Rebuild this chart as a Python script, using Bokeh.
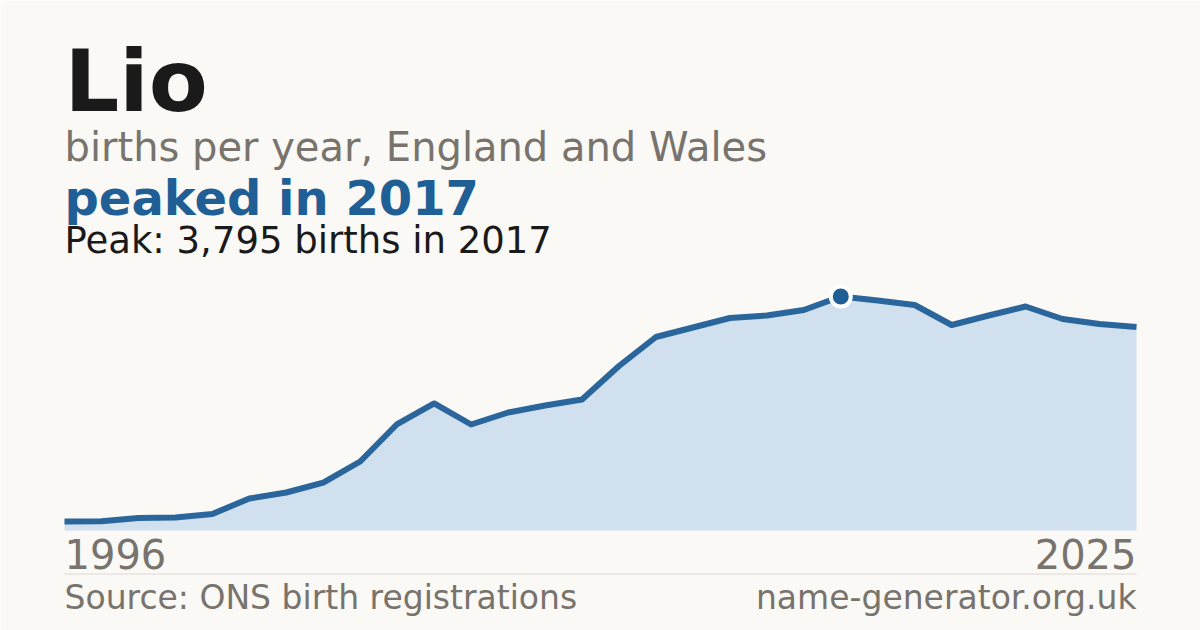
from bokeh.plotting import figure
from bokeh.models import Range1d
from bokeh.core.properties import value
from bokeh.embed import file_html
from bokeh.resources import INLINE

# ---- data ----
years = list(range(1996, 2026))
births = [146, 150, 203, 211, 268, 519, 616, 778, 1119, 1727,
          2060, 1719, 1914, 2027, 2125, 2668, 3138, 3292, 3446, 3487,
          3576, 3795, 3730, 3657, 3333, 3487, 3633, 3430, 3349, 3300]
peak_year = 2017
peak_value = 3795
tick_labels = ["1996", "2025"]
title_text = "Lio"
subtitle_text = "births per year, England and Wales"
headline_text = "peaked in 2017"
peak_text = "Peak: 3,795 births in 2017"
source_text = "Source: ONS birth registrations"
site_text = "name-generator.org.uk"

# ---- layout (page pixels) ----
W, H = 1200, 630
OFF = 0
LEFT_PX, RIGHT_PX = 64, 1136
BASE_PX, PEAK_PX = 530, 296
px_per_year = (RIGHT_PX - LEFT_PX) / (years[-1] - years[0])
px_per_birth = (BASE_PX - PEAK_PX) / peak_value
BASELINE_SHIFT = 0.35  # em, compensation for rendered baseline offset

def dx(px):
    return years[0] + (px - LEFT_PX) / px_per_year

def dy(py):
    return (BASE_PX - py) / px_per_birth

BG = "#faf9f5"
BLUE = "#1f5f96"
LINE = "#2a669c"
AREA = "#d0e0ef"
DARK = "#1a1a1a"
GRAY = "#78736c"
RULE = "#dddad3"
FONT = value("DejaVu Sans")

p = figure(width=W, height=H, output_backend="svg", toolbar_location=None,
           x_axis_location=None, y_axis_location=None,
           x_range=Range1d(dx(OFF), dx(OFF + W)),
           y_range=Range1d(dy(OFF + H), dy(OFF)),
           min_border=0, min_border_left=0, min_border_right=0,
           min_border_top=0, min_border_bottom=0)
p.background_fill_color = BG
p.border_fill_color = BG
p.outline_line_color = None
p.xgrid.visible = False
p.ygrid.visible = False

# area + line
p.varea(x=years, y1=[0] * len(years), y2=births, fill_color=AREA)
p.line(years, births, line_color=LINE, line_width=6, line_join="round", line_cap="butt")
p.scatter([peak_year], [peak_value], size=20, fill_color=BLUE, line_color="white", line_width=4)

# separator rule
p.segment(x0=[years[0]], y0=[dy(573.5)], x1=[years[-1]], y1=[dy(573.5)],
          line_color=RULE, line_width=1)

def txt(x, base_py, s, size, color, style="normal", align="left"):
    y = dy(base_py - BASELINE_SHIFT * size)
    p.text(x=[x], y=[y], text=[s], text_font=FONT, text_font_size=f"{size}px",
           text_font_style=style, text_color=color, text_align=align,
           text_baseline="alphabetic")

txt(dx(LEFT_PX), 111, title_text, 86, DARK, "bold")
txt(dx(LEFT_PX), 160, subtitle_text, 40, GRAY)
txt(dx(LEFT_PX), 214, headline_text, 48, BLUE, "bold")
txt(dx(LEFT_PX), 253, peak_text, 37, DARK)

# x tick labels
txt(years[0], 567, tick_labels[0], 40, GRAY, align="left")
txt(years[-1], 567, tick_labels[1], 40, GRAY, align="right")

# footer
txt(dx(LEFT_PX), 609, source_text, 33, GRAY)
txt(dx(RIGHT_PX), 609, site_text, 33, GRAY, align="right")

open("out.html", "w").write(file_html(p, INLINE))
